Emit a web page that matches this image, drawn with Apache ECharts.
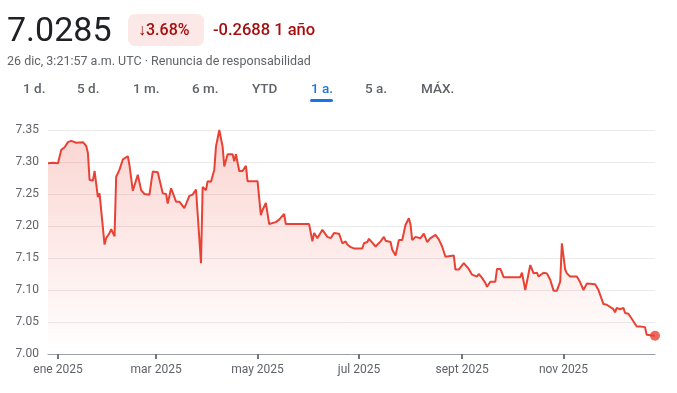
<!DOCTYPE html>
<html><head><meta charset="utf-8">
<script src="https://cdn.jsdelivr.net/npm/echarts@6/dist/echarts.min.js"></script>
<style>html,body{margin:0;padding:0;background:#fff}#c{width:677px;height:393px}</style>
</head><body><div id="c"></div>
<script>
const dates = ['2024-12-26','2024-12-29','2025-01-01','2025-01-02','2025-01-03','2025-01-05','2025-01-07','2025-01-09','2025-01-12','2025-01-16','2025-01-18','2025-01-19','2025-01-20','2025-01-22','2025-01-23','2025-01-25','2025-01-26','2025-01-27','2025-01-29','2025-01-30',
'2025-02-01','2025-02-02','2025-02-04','2025-02-05','2025-02-07','2025-02-08','2025-02-09','2025-02-12','2025-02-13','2025-02-15','2025-02-16','2025-02-18','2025-02-19','2025-02-20','2025-02-22','2025-02-25','2025-02-27',
'2025-03-02','2025-03-05','2025-03-07','2025-03-08','2025-03-10','2025-03-11','2025-03-13','2025-03-15','2025-03-18','2025-03-19','2025-03-21','2025-03-23','2025-03-25','2025-03-26','2025-03-28','2025-03-29','2025-03-31',
'2025-04-01','2025-04-03','2025-04-05','2025-04-06','2025-04-08','2025-04-10','2025-04-11','2025-04-13','2025-04-16','2025-04-17','2025-04-18','2025-04-20','2025-04-22','2025-04-24','2025-04-25',
'2025-05-01','2025-05-03','2025-05-04','2025-05-05','2025-05-06','2025-05-08','2025-05-09','2025-05-12','2025-05-14','2025-05-15','2025-05-17','2025-05-18',
'2025-06-01','2025-06-03','2025-06-04','2025-06-06','2025-06-07','2025-06-09','2025-06-10','2025-06-12','2025-06-14','2025-06-16','2025-06-19','2025-06-21','2025-06-23','2025-06-24','2025-06-25','2025-06-26','2025-06-28',
'2025-07-03','2025-07-04','2025-07-06','2025-07-07','2025-07-09','2025-07-11','2025-07-12','2025-07-14','2025-07-16','2025-07-17','2025-07-20','2025-07-21','2025-07-23','2025-07-24','2025-07-25','2025-07-27','2025-07-29','2025-07-31',
'2025-08-01','2025-08-02','2025-08-04','2025-08-07','2025-08-09','2025-08-11','2025-08-13','2025-08-16','2025-08-18','2025-08-19','2025-08-20','2025-08-22','2025-08-27','2025-08-28','2025-08-30',
'2025-09-02','2025-09-03','2025-09-05','2025-09-07','2025-09-10','2025-09-11','2025-09-13','2025-09-15','2025-09-16','2025-09-18','2025-09-21','2025-09-22','2025-09-24','2025-09-26',
'2025-10-06','2025-10-07','2025-10-09','2025-10-10','2025-10-12','2025-10-14','2025-10-15','2025-10-16','2025-10-17','2025-10-20','2025-10-22','2025-10-24','2025-10-26','2025-10-28','2025-10-30','2025-10-31',
'2025-11-02','2025-11-03','2025-11-05','2025-11-09','2025-11-11','2025-11-12','2025-11-13','2025-11-15','2025-11-20','2025-11-22','2025-11-25','2025-11-27',
'2025-12-01','2025-12-02','2025-12-03','2025-12-05','2025-12-07','2025-12-08','2025-12-10','2025-12-12','2025-12-15','2025-12-17','2025-12-20','2025-12-21','2025-12-26'];
const rates = [7.298,7.299,7.298,7.300,7.319,7.323,7.331,7.333,7.330,7.331,7.325,7.314,7.272,7.271,7.286,7.245,7.251,7.250,7.171,7.181,
7.189,7.195,7.184,7.277,7.288,7.288,7.304,7.309,7.295,7.255,7.254,7.280,7.283,7.256,7.250,7.249,7.285,
7.284,7.251,7.250,7.235,7.259,7.258,7.238,7.238,7.228,7.229,7.247,7.249,7.257,7.258,7.142,7.261,7.256,
7.270,7.269,7.288,7.324,7.350,7.324,7.293,7.312,7.312,7.301,7.312,7.286,7.286,7.294,7.270,
7.270,7.217,7.225,7.226,7.236,7.203,7.206,7.206,7.210,7.210,7.219,7.203,
7.203,7.176,7.189,7.181,7.181,7.194,7.194,7.183,7.181,7.189,7.188,7.173,7.176,7.171,7.173,7.167,7.165,
7.165,7.173,7.175,7.180,7.174,7.168,7.168,7.176,7.183,7.177,7.175,7.163,7.154,7.154,7.178,7.178,7.202,7.212,
7.202,7.178,7.183,7.181,7.188,7.175,7.181,7.186,7.179,7.181,7.168,7.152,7.154,7.132,7.132,
7.142,7.143,7.133,7.124,7.121,7.125,7.119,7.111,7.105,7.113,7.113,7.133,7.133,7.120,
7.120,7.127,7.100,7.100,7.139,7.126,7.124,7.127,7.121,7.127,7.126,7.116,7.099,7.099,7.113,7.173,
7.132,7.126,7.121,7.121,7.112,7.112,7.100,7.110,7.109,7.100,7.078,7.077,
7.070,7.065,7.072,7.070,7.072,7.064,7.063,7.055,7.043,7.043,7.042,7.030,7.0285];
const tickDates = ['2025-01-01','2025-03-01','2025-05-01','2025-07-01','2025-09-01','2025-11-01'];
const monthNames = ['ene','feb','mar','abr','may','jun','jul','ago','sept','oct','nov','dic'];
const tabs = ['1 d.','5 d.','1 m.','6 m.','YTD','1 a.','5 a.','MÁX.'];
const tabX = [23,77,133,192,252,311,365,421];
const selectedTab = 5;

function ts(s){const p=s.split('-').map(Number);return new Date(p[0],p[1]-1,p[2]).getTime();}
const tickVals = tickDates.map(ts);
const seriesData = dates.map((d,i)=>[ts(d),rates[i]]);
const last = seriesData[seriesData.length-1];

const chart = echarts.init(document.getElementById('c'), null, {renderer:'canvas'});
const FONT = 'Roboto, "Noto Sans", sans-serif';
const graphics = [
  {type:'text', x:7, y:32, style:{text:'7.0285', font:'400 34px '+FONT, fill:'#202124', verticalAlign:'middle'}},
  {type:'rect', shape:{x:128,y:14,width:76,height:32,r:7}, style:{fill:'#fce8e6'}},
  {type:'text', x:138, y:31, style:{text:'↓3.68%', font:'500 16px '+FONT, fill:'#a50e0e', verticalAlign:'middle'}},
  {type:'text', x:213, y:31, style:{text:'-0.2688 1 año', font:'500 16.5px '+FONT, fill:'#a50e0e', verticalAlign:'middle'}},
  {type:'text', x:7, y:62, style:{text:'26 dic, 3:21:57 a.m. UTC · Renuncia de responsabilidad', font:'400 12.5px '+FONT, fill:'#5f6368', verticalAlign:'middle'}},
  {type:'rect', shape:{x:310,y:99,width:23,height:3,r:1.5}, style:{fill:'#1a73e8'}}
];
tabs.forEach((t,i)=>{
  graphics.push({type:'text', x:tabX[i], y:90, style:{text:t, font:'500 13.5px '+FONT, fill: i===selectedTab?'#1a73e8':'#5f6368', verticalAlign:'middle'}});
});

chart.setOption({
  animation:false,
  grid:{left:48, right:22, top:130, bottom:39, containLabel:false},
  graphic: graphics,
  xAxis:{
    type:'value', min:ts('2024-12-26'), max:ts('2025-12-26'),
    axisLine:{show:true, lineStyle:{color:'#9aa0a6', width:1}},
    axisTick:{show:true, customValues:tickVals, length:5, lineStyle:{color:'#70757a', width:2}},
    axisLabel:{customValues:tickVals, color:'#5f6368', fontSize:12, fontFamily:FONT, margin:10,
      formatter:(v)=>{const d=new Date(v);return monthNames[d.getMonth()]+' '+d.getFullYear();}},
    splitLine:{show:false}
  },
  yAxis:{
    type:'value', min:7.00, max:7.35, interval:0.05,
    axisLine:{show:false}, axisTick:{show:false},
    axisLabel:{color:'#5f6368', fontSize:12, fontFamily:FONT, margin:9, formatter:(v)=>v.toFixed(2)},
    splitLine:{lineStyle:{color:'#ebebeb', width:1}}
  },
  series:[
    {type:'line', data:seriesData, symbol:'none', smooth:false,
     lineStyle:{color:'#e94235', width:2},
     areaStyle:{origin:'start', color:new echarts.graphic.LinearGradient(0,0,0,1,[{offset:0,color:'rgba(234,67,53,0.32)'},{offset:1,color:'rgba(234,67,53,0.0)'}])},
     z:2},
    {type:'scatter', data:[last], symbol:'circle', symbolSize:10, itemStyle:{color:'#e94235'}, z:3}
  ]
});
</script></body></html>
